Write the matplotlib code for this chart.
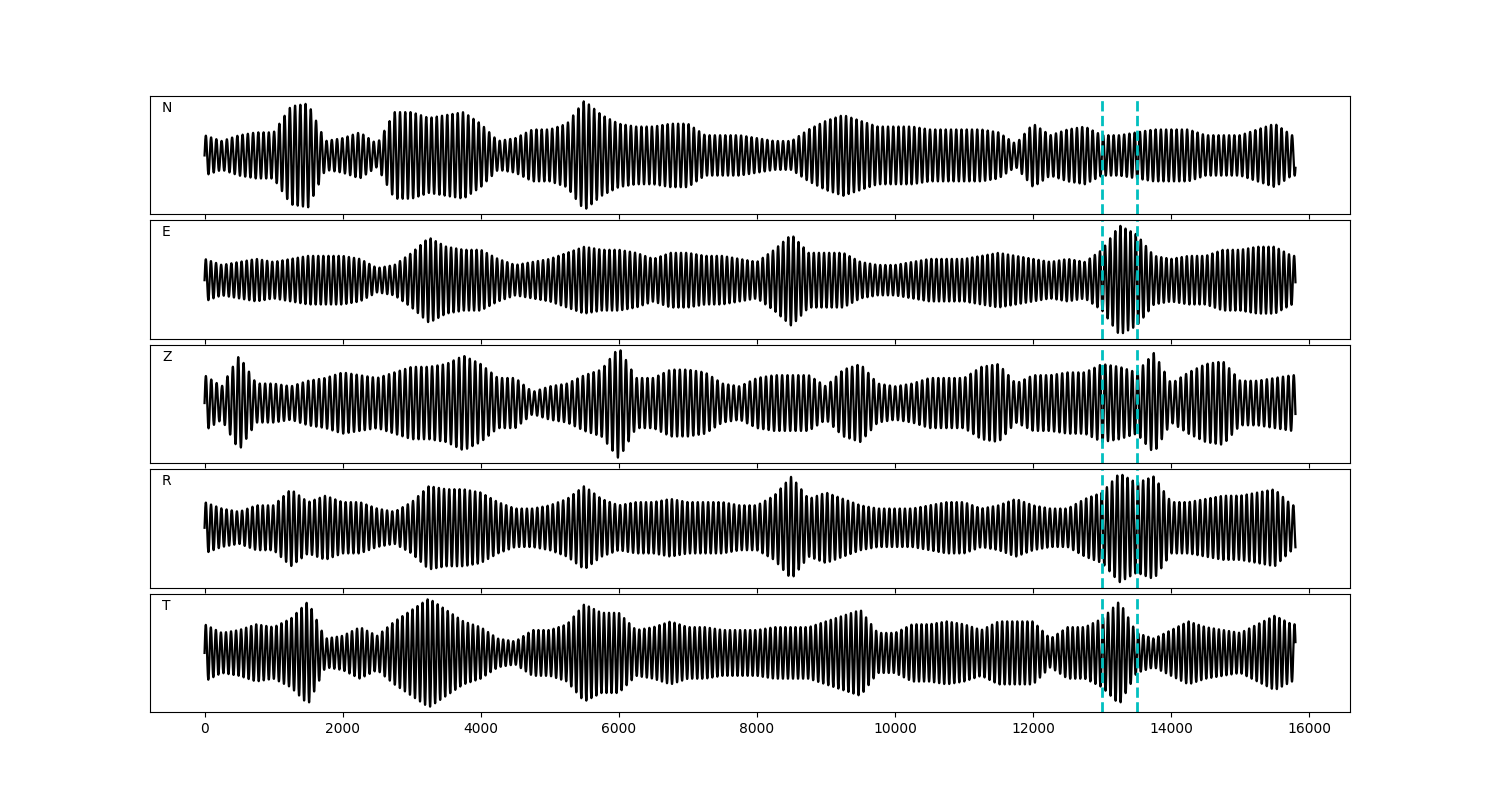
import numpy as np
import matplotlib
matplotlib.use("Agg")
import matplotlib.pyplot as plt

# Envelope amplitude (relative to each trace's largest swing), read every 250 samples
env_x = np.arange(0, 16000, 250)

env_n = [0.35, 0.25, 0.35, 0.4, 0.4, 0.85, 0.9, 0.25, 0.3, 0.4, 0.2, 0.75, 0.75, 0.65, 0.7, 0.75,
         0.55, 0.25, 0.3, 0.45, 0.45, 0.55, 0.95, 0.7, 0.55, 0.5, 0.5, 0.55, 0.55, 0.35, 0.35, 0.35,
         0.3, 0.25, 0.25, 0.45, 0.6, 0.7, 0.6, 0.5, 0.5, 0.5, 0.45, 0.45, 0.45, 0.45, 0.4, 0.2,
         0.55, 0.35, 0.45, 0.5, 0.35, 0.35, 0.4, 0.45, 0.45, 0.45, 0.35, 0.35, 0.35, 0.45, 0.55, 0.35]
env_e = [0.35, 0.25, 0.3, 0.35, 0.3, 0.35, 0.4, 0.4, 0.4, 0.35, 0.2, 0.25, 0.45, 0.7, 0.55, 0.5,
         0.5, 0.35, 0.25, 0.3, 0.35, 0.45, 0.55, 0.5, 0.5, 0.45, 0.35, 0.45, 0.45, 0.4, 0.4, 0.35,
         0.3, 0.5, 0.75, 0.45, 0.45, 0.45, 0.3, 0.25, 0.25, 0.3, 0.35, 0.35, 0.35, 0.4, 0.45, 0.4,
         0.35, 0.3, 0.35, 0.3, 0.5, 0.9, 0.75, 0.4, 0.35, 0.4, 0.4, 0.5, 0.5, 0.55, 0.55, 0.4]
env_z = [0.5, 0.3, 0.85, 0.35, 0.35, 0.3, 0.4, 0.45, 0.55, 0.5, 0.45, 0.55, 0.65, 0.65, 0.7, 0.85,
         0.7, 0.45, 0.45, 0.2, 0.3, 0.35, 0.5, 0.6, 1.0, 0.45, 0.45, 0.6, 0.6, 0.55, 0.35, 0.3,
         0.45, 0.5, 0.5, 0.5, 0.3, 0.6, 0.7, 0.35, 0.3, 0.35, 0.45, 0.45, 0.45, 0.65, 0.7, 0.35,
         0.5, 0.5, 0.55, 0.55, 0.7, 0.65, 0.55, 0.9, 0.35, 0.55, 0.7, 0.75, 0.4, 0.4, 0.45, 0.5]
env_r = [0.4, 0.3, 0.25, 0.35, 0.35, 0.6, 0.4, 0.5, 0.4, 0.4, 0.3, 0.25, 0.4, 0.65, 0.6, 0.6,
         0.55, 0.4, 0.3, 0.3, 0.35, 0.45, 0.65, 0.45, 0.35, 0.4, 0.4, 0.45, 0.4, 0.4, 0.4, 0.35,
         0.35, 0.5, 0.8, 0.45, 0.55, 0.45, 0.35, 0.3, 0.3, 0.3, 0.35, 0.4, 0.4, 0.3, 0.35, 0.45,
         0.35, 0.3, 0.3, 0.45, 0.55, 0.85, 0.7, 0.8, 0.4, 0.4, 0.45, 0.5, 0.5, 0.55, 0.6, 0.35]
env_t = [0.5, 0.35, 0.4, 0.5, 0.45, 0.6, 0.9, 0.25, 0.3, 0.45, 0.3, 0.55, 0.75, 0.95, 0.75, 0.55,
         0.45, 0.25, 0.2, 0.4, 0.4, 0.5, 0.85, 0.7, 0.7, 0.4, 0.45, 0.55, 0.45, 0.45, 0.4, 0.4,
         0.4, 0.45, 0.45, 0.45, 0.55, 0.65, 0.75, 0.35, 0.35, 0.5, 0.5, 0.55, 0.5, 0.4, 0.55, 0.55,
         0.55, 0.25, 0.45, 0.45, 0.6, 0.9, 0.35, 0.25, 0.4, 0.55, 0.45, 0.4, 0.35, 0.5, 0.65, 0.5]

labels = ["N", "E", "Z", "R", "T"]
envelopes = [env_n, env_e, env_z, env_r, env_t]
periods = [76, 74, 78, 75, 73]
n_samples = 15800
window = [13000, 13500]

t = np.arange(0, n_samples + 1)

fig, axes = plt.subplots(5, 1, figsize=(15, 8), dpi=100, sharex=True)
fig.subplots_adjust(left=0.1, right=0.9, top=0.88, bottom=0.11, hspace=0.055)

for ax, lab, env, per in zip(axes, labels, envelopes, periods):
    amp = np.interp(t, env_x, env)
    trace = amp * np.sin(2 * np.pi * t / per)
    ax.plot(t, trace, color="k", lw=1.6)
    for w in window:
        ax.axvline(w, color="c", ls="--", lw=2)
    ax.set_yticks([])
    ax.text(0.01, 0.9, lab, transform=ax.transAxes, va="center", ha="left", fontsize=10)

axes[-1].set_xticks(np.arange(0, 16001, 2000))

plt.savefig("out.png")
